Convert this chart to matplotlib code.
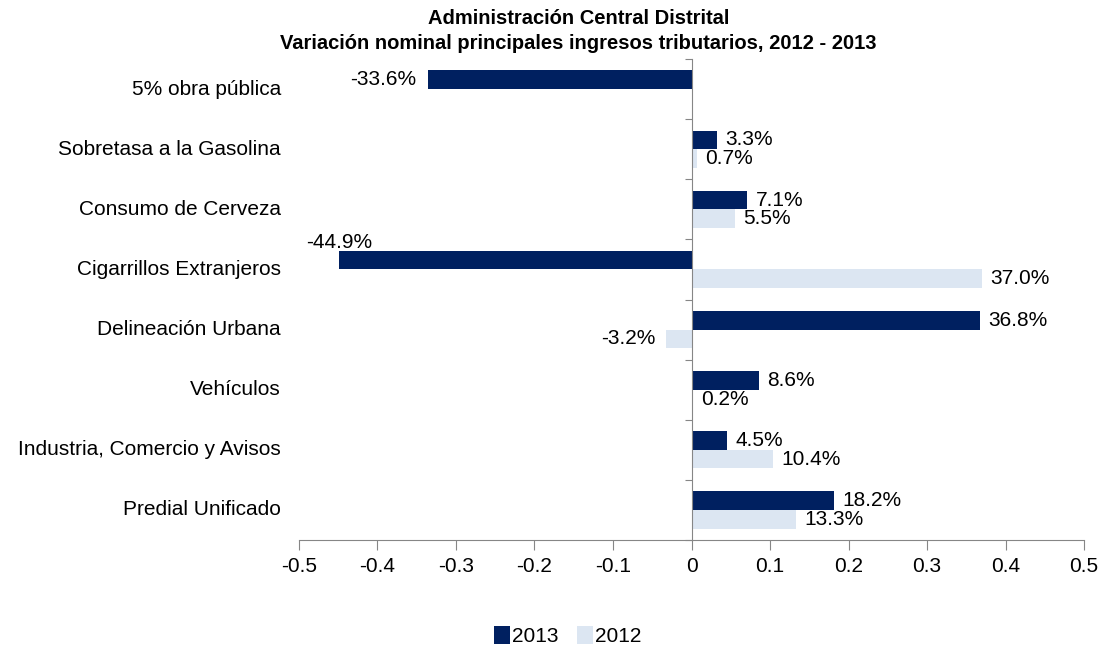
import matplotlib.pyplot as plt
import numpy as np
from matplotlib.ticker import FixedLocator, FuncFormatter

plt.rcParams['font.family'] = ['Liberation Sans', 'DejaVu Sans']

categorias = ['5% obra pública', 'Sobretasa a la Gasolina', 'Consumo de Cerveza',
              'Cigarrillos Extranjeros', 'Delineación Urbana', 'Vehículos',
              'Industria, Comercio y Avisos', 'Predial Unificado']
var_2013 = [-0.336, 0.033, 0.071, -0.449, 0.368, 0.086, 0.045, 0.182]
var_2012 = [np.nan, 0.007, 0.055, 0.370, -0.032, 0.002, 0.104, 0.133]
ticks_x = [-0.5, -0.4, -0.3, -0.2, -0.1, 0, 0.1, 0.2, 0.3, 0.4, 0.5]

c13 = '#002060'
c12 = '#dce6f2'
gris = '#868686'

fig = plt.figure(figsize=(11.02, 6.45), dpi=100)
ax = fig.add_axes([0.2713, 0.1628, 0.7124, 0.7457])

y = np.arange(len(categorias))
h = 0.31
b13 = ax.barh(y - h / 2, var_2013, height=h, color=c13, label='2013')
b12 = ax.barh(y + h / 2, var_2012, height=h, color=c12, label='2012')

ax.set_xlim(-0.5, 0.5)
ax.set_ylim(len(categorias) - 0.5, -0.5)

# etiquetas de datos
def etiquetas(barras, vals):
    for yy, v in zip(barras, vals):
        if np.isnan(v):
            continue
        txt = '%.1f%%' % (v * 100)
        if v < -0.4:
            ax.annotate(txt, (v, yy), xytext=(0, 13), textcoords='offset points',
                        ha='center', va='center', fontsize=15)
        elif v < 0:
            ax.annotate(txt, (v, yy), xytext=(-8, 0), textcoords='offset points',
                        ha='right', va='center', fontsize=15)
        else:
            ax.annotate(txt, (v, yy), xytext=(6, 0), textcoords='offset points',
                        ha='left', va='center', fontsize=15)

etiquetas(y - h / 2, var_2013)
etiquetas(y + h / 2, var_2012)

# ejes
for s in ['top', 'right']:
    ax.spines[s].set_visible(False)
ax.spines['left'].set_position(('data', 0))
ax.spines['left'].set_color(gris)
ax.spines['bottom'].set_color(gris)
ax.yaxis.set_major_locator(FixedLocator(np.arange(len(categorias) + 1) - 0.5))
ax.yaxis.set_major_formatter(FuncFormatter(lambda v, p: ''))
ax.tick_params(axis='y', length=5, color=gris, direction='out')
ax.set_xticks(ticks_x)
ax.xaxis.set_major_formatter(FuncFormatter(lambda v, p: '%g' % round(v, 1)))
ax.tick_params(axis='x', length=7, color=gris, labelsize=15, pad=5)

for yy, cat in zip(y, categorias):
    ax.text(-0.023, yy, cat, transform=ax.get_yaxis_transform(), ha='right',
            va='center', fontsize=15)

fig.text(0.525, 0.963, 'Administración Central Distrital', ha='center', va='baseline',
         fontsize=14.5, fontweight='bold')
fig.text(0.525, 0.924, 'Variación nominal principales ingresos tributarios, 2012 - 2013',
         ha='center', va='baseline', fontsize=14.5, fontweight='bold')

fig.legend(handles=[b13, b12], loc='center', bbox_to_anchor=(0.515, 0.014), ncol=2,
           frameon=False, fontsize=15, handlelength=0.75, handleheight=1.0,
           handletextpad=0.1, columnspacing=0.9)

fig.savefig('out.png', dpi=100)
